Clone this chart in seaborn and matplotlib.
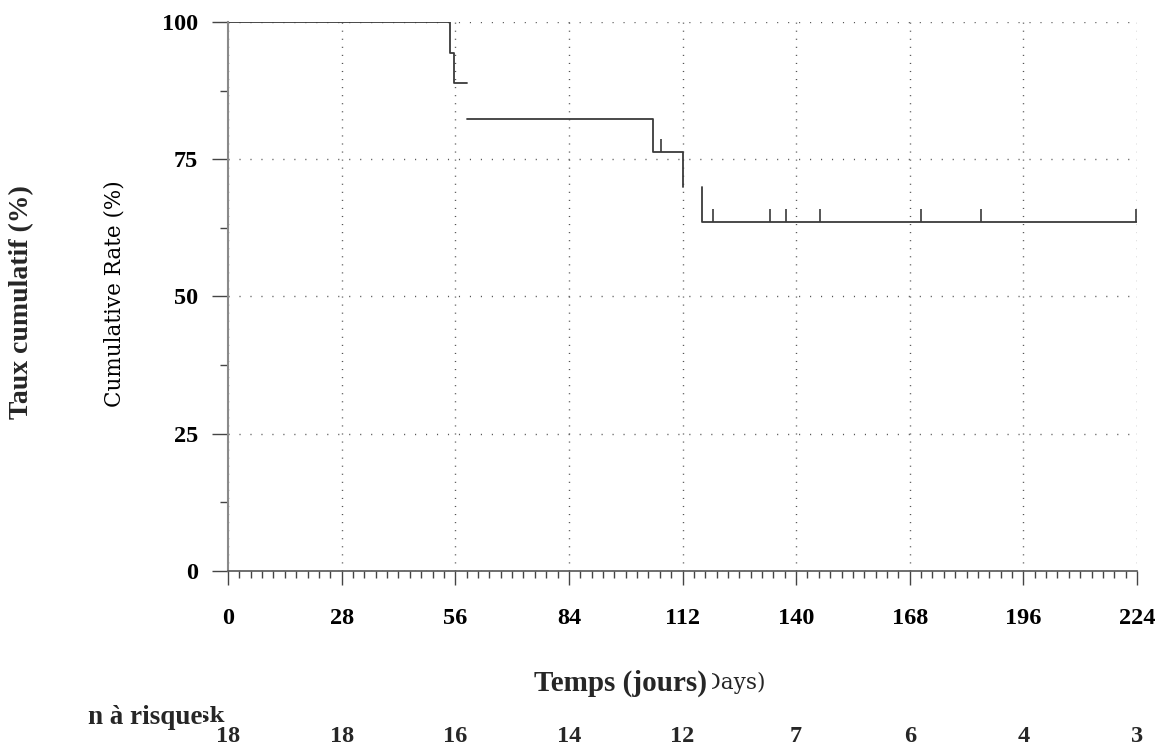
import matplotlib
matplotlib.use("Agg")
import matplotlib.pyplot as plt
import matplotlib.transforms as mtransforms
import numpy as np
import pandas as pd
import seaborn as sns
from matplotlib.path import Path
from matplotlib.ticker import FixedLocator


# step curve pieces: day, cumulative rate (%)
SEG_DAYS = [
    [0, 54.7, 55.7, 58.8],
    [58.8, 104.8, 112.0, 112.0],
    [116.7, 116.7, 224.0],
]
SEG_RATE = [
    [100, 94.4, 88.9, 88.9],
    [82.3, 76.3, 70.0, 70.0],
    [70.0, 63.6, 63.6],
]

# censored observations (small upward ticks)
CENSOR_DAYS = [106.6, 119.6, 133.6, 137.5, 145.8, 170.7, 185.6, 223.8]
CENSOR_RATE = [76.3, 63.6, 63.6, 63.6, 63.6, 63.6, 63.6, 63.6]

X_TICKS = [0, 28, 56, 84, 112, 140, 168, 196, 224]
Y_TICKS = [0, 25, 50, 75, 100]
AT_RISK = [18, 18, 16, 14, 12, 7, 6, 4, 3]

W, H = 1160, 747
INK = "#3a3a3a"
BOLD_SERIF = "Liberation Serif"
SERIF = "DejaVu Serif"


def main() -> None:
    sns.set_style("ticks")
    plt.rcParams["font.family"] = [SERIF]

    curve = pd.DataFrame(
        {
            "day": [d for seg in SEG_DAYS for d in seg],
            "rate": [r for seg in SEG_RATE for r in seg],
            "piece": [i for i, seg in enumerate(SEG_DAYS) for _ in seg],
        }
    )
    censor = pd.DataFrame({"day": CENSOR_DAYS, "rate": CENSOR_RATE})

    fig = plt.figure(figsize=(W / 100, H / 100), dpi=100)
    ax = fig.add_axes([228 / W, 1 - 571 / H, 909 / W, 549 / H])

    sns.lineplot(
        data=curve,
        x="day",
        y="rate",
        units="piece",
        estimator=None,
        sort=False,
        drawstyle="steps-post",
        color=INK,
        lw=1.3,
        legend=False,
        ax=ax,
    )
    tick_mark = Path([(0, 0), (0, 1)])
    sns.scatterplot(
        data=censor,
        x="day",
        y="rate",
        marker=tick_mark,
        s=350,
        color=INK,
        edgecolor=INK,
        linewidth=1.2,
        legend=False,
        ax=ax,
        zorder=3,
    )

    ax.set_xlim(0, 224)
    ax.set_ylim(0, 100)
    ax.set_xticks(X_TICKS)
    ax.set_yticks(Y_TICKS)
    ax.xaxis.set_minor_locator(FixedLocator(np.arange(0, 224.1, 2.8)))
    ax.yaxis.set_minor_locator(FixedLocator(np.arange(12.5, 100, 25)))

    ax.xaxis.grid(True, which="major", color="#555555", lw=1.0, linestyle=(0, (0.8, 5.0)))
    ax.yaxis.grid(True, which="major", color="#555555", lw=1.0, linestyle=(0, (0.8, 7.1)))

    ax.tick_params(axis="x", which="major", direction="out", length=10, width=1, color="#444444", pad=17, labelsize=17.5)
    ax.tick_params(axis="x", which="minor", direction="out", length=5, width=1, color="#444444")
    ax.tick_params(axis="y", which="major", direction="out", length=11.5, width=1, color="#444444", pad=10, labelsize=17.5)
    ax.tick_params(axis="y", which="minor", direction="out", length=6, width=1, color="#444444")
    for lab in ax.get_xticklabels() + ax.get_yticklabels():
        lab.set_fontfamily(BOLD_SERIF)
        lab.set_fontweight("bold")
        lab.set_color("black")

    sns.despine(ax=ax)
    ax.spines["left"].set_color("#8a8a8a")
    ax.spines["left"].set_linewidth(1.5)
    ax.spines["bottom"].set_color("#555555")
    ax.spines["bottom"].set_linewidth(1.2)

    ax.set_xlabel("")
    ax.set_ylabel("Cumulative Rate (%)", fontsize=15.5, fontfamily=SERIF, color="black")
    ax.yaxis.set_label_coords((126 - 228) / 909, 0.505)

    # French labels overlaid on the English ones
    fig.text(22 / W, 1 - 302 / H, "Taux cumulatif (%)", rotation=90, ha="center", va="center",
             fontsize=20, fontweight="bold", fontfamily=BOLD_SERIF)

    fig.text(765 / W, 1 - 683 / H, "Time (Days)", ha="right", va="center", fontsize=15.5, fontfamily=SERIF)
    fig.text(620 / W, 1 - 683 / H, "Temps (jours)", ha="center", va="center", fontsize=21,
             fontweight="bold", fontfamily=BOLD_SERIF,
             bbox=dict(facecolor="white", edgecolor="none", pad=4))

    fig.text(224 / W, 1 - 716 / H, "At risk", ha="right", va="center", fontsize=15, fontweight="bold", fontfamily=SERIF)
    fig.text(145 / W, 1 - 717 / H, "n à risque", ha="center", va="center", fontsize=19.5,
             fontweight="bold", fontfamily=BOLD_SERIF,
             bbox=dict(facecolor="white", edgecolor="none", pad=0.5))

    row = mtransforms.blended_transform_factory(ax.transData, fig.transFigure)
    for day, n in zip(X_TICKS, AT_RISK):
        ax.text(day, 1 - 737 / H, str(n), transform=row, ha="center", va="center",
                fontsize=17.5, fontweight="bold", fontfamily=BOLD_SERIF, clip_on=False)

    fig.savefig("out.png", dpi=100)
    plt.close(fig)


if __name__ == "__main__":
    main()
